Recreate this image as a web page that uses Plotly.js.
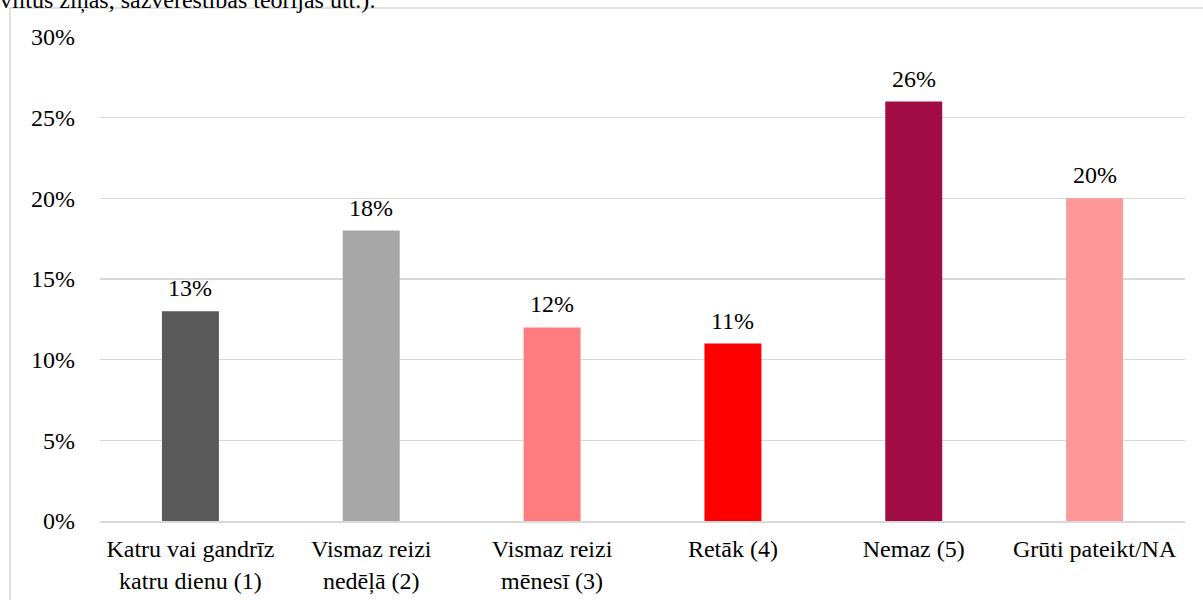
<!DOCTYPE html>
<html>
<head>
<meta charset="utf-8">
<script src="https://cdn.plot.ly/plotly-3.0.1.min.js"></script>
<style>html,body{margin:0;padding:0;background:#fff;}#chart{width:1203px;height:600px;}</style>
</head>
<body>
<div id="chart"></div>
<script>
const categories = ["Katru vai gandrīz<br>katru dienu (1)", "Vismaz reizi<br>nedēļā (2)", "Vismaz reizi<br>mēnesī (3)", "Retāk (4)", "Nemaz (5)", "Grūti pateikt/NA"];
const values = [13, 18, 12, 11, 26, 20];
const barColors = ["#595959", "#a6a6a6", "#ff7c80", "#ff0000", "#a20c44", "#ff9999"];
const tickVals = [0, 5, 10, 15, 20, 25, 30];
const tickText = ["0%", "5%", "10%", "15%", "20%", "25%", "30%"];
const titleText = "viltus ziņas, sazvērestības teorijas utt.):";

function mkFont() { return {family: "Times New Roman, Liberation Serif, serif", size: 24, color: "#000000"}; }

const trace = {
  type: "bar",
  x: categories,
  y: values,
  marker: {color: barColors},
  hoverinfo: "none"
};

const annotations = values.map((v, i) => ({
  x: categories[i], y: v, xref: "x", yref: "y",
  text: v + "%", showarrow: false, yanchor: "bottom", yshift: 8,
  font: mkFont()
}));
annotations.push({
  xref: "paper", yref: "paper", x: -0.094, y: 1, xanchor: "left", yanchor: "bottom",
  yshift: 21, text: titleText, showarrow: false, font: mkFont()
});

const layout = {
  width: 1203, height: 600,
  margin: {l: 100, r: 18, t: 37, b: 79},
  paper_bgcolor: "#ffffff", plot_bgcolor: "#ffffff",
  font: mkFont(),
  bargap: 0.685,
  showlegend: false,
  xaxis: {
    showgrid: false, showline: true, linecolor: "#d9d9d9", linewidth: 1.5,
    ticks: "", tickfont: mkFont(), ticklabelstandoff: 6, fixedrange: true
  },
  yaxis: {
    range: [0, 30], tickvals: tickVals, ticktext: tickText,
    showgrid: true, gridcolor: "#d9d9d9", gridwidth: 1.5, zeroline: false,
    showline: false, ticks: "", tickfont: mkFont(), ticklabelstandoff: 24, fixedrange: true
  },
  annotations: annotations,
  shapes: [{
    type: "rect", xref: "paper", yref: "paper",
    x0: (10 - 100) / 1085, x1: 1.05, y0: -0.2, y1: (521 - 8) / 484,
    line: {color: "#d9d9d9", width: 1.5}, fillcolor: "rgba(0,0,0,0)", layer: "below"
  }]
};

Plotly.newPlot("chart", [trace], layout, {displayModeBar: false, staticPlot: true});
</script>
</body>
</html>
